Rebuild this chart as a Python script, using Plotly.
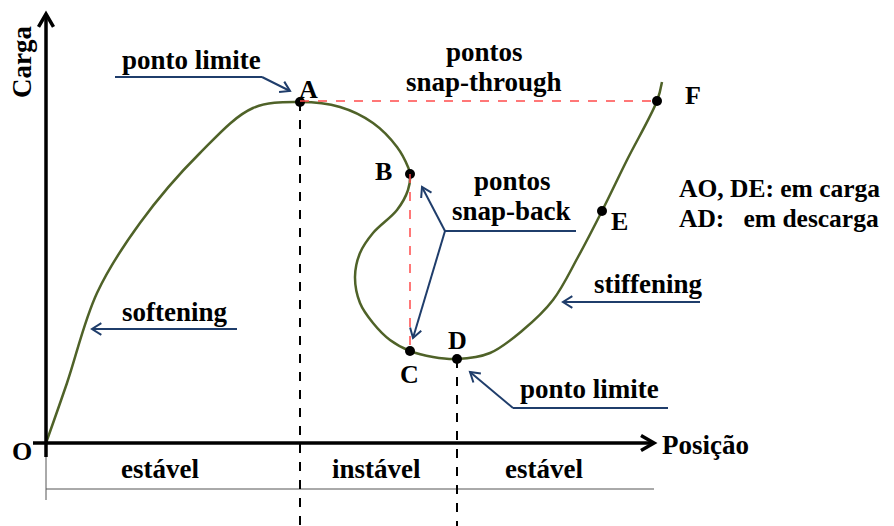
import math
import plotly.graph_objects as go

# ---- data: load-position equilibrium path (position, load) ----
curve_pos = [0, 21, 51, 94, 154, 207, 254,
             294, 327, 351, 362, 364,
             362, 351, 327, 314, 309, 314, 327, 344, 364,
             387, 411, 444, 477, 507, 532, 556, 581, 611, 616]
curve_load = [0, 60, 150, 220, 290, 335, 341,
              336, 320, 296, 276, 269,
              253, 233, 210, 190, 166, 140, 120, 103, 92,
              86, 84, 90, 113, 143, 186, 232, 283, 342, 361]
point_names = ["A", "B", "C", "D", "E", "F"]
point_pos = [254, 364, 364, 411, 556, 611]
point_load = [341, 269, 92, 84, 232, 342]
region_labels = ["estável", "instável", "estável"]

# ---- helpers (pixel -> data) ----
OX, OY = 46, 443
def X(px): return px - OX
def Y(py): return OY - py

PAD = 8  # default page body margin
FONT = "Liberation Serif"
GREEN = "#4f6228"
BLUE = "#1f3d6b"
RED = "#ff4b4b"

fig = go.Figure()
fig.add_trace(go.Scatter(x=curve_pos, y=curve_load, mode="lines",
                         line=dict(color=GREEN, width=2.5, shape="spline", smoothing=1.0),
                         hoverinfo="skip", showlegend=False))
fig.add_trace(go.Scatter(x=point_pos, y=point_load, mode="markers",
                         marker=dict(color="black", size=10),
                         text=point_names, hoverinfo="text", showlegend=False))

shapes = []
def line(p1, p2, color="black", width=2, dash="solid"):
    shapes.append(dict(type="line", xref="x", yref="y",
                       x0=X(p1[0]), y0=Y(p1[1]), x1=X(p2[0]), y1=Y(p2[1]),
                       line=dict(color=color, width=width, dash=dash)))

def chevron(tip, tail, color, width=2, L=11, ang=32):
    vx, vy = tail[0] - tip[0], tail[1] - tip[1]
    n = math.hypot(vx, vy)
    vx, vy = vx / n, vy / n
    pts = []
    for s in (1, -1):
        a = math.radians(ang * s)
        rx = vx * math.cos(a) - vy * math.sin(a)
        ry = vx * math.sin(a) + vy * math.cos(a)
        pts.append((tip[0] + L * rx, tip[1] + L * ry))
    path = "M {} {} L {} {} L {} {}".format(X(pts[0][0]), Y(pts[0][1]), X(tip[0]), Y(tip[1]),
                                             X(pts[1][0]), Y(pts[1][1]))
    shapes.append(dict(type="path", xref="x", yref="y", path=path,
                       line=dict(color=color, width=width)))

def arrow(points, color=BLUE, width=2):
    for a, b in zip(points[:-1], points[1:]):
        line(a, b, color, width)
    chevron(points[-1], points[-2], color, width)

# axes
line((46, 457), (46, 15), width=3.5)
chevron((46, 14), (46, 40), "black", width=3.5, L=15, ang=30)
line((33, 443), (652, 443), width=3.5)
chevron((654, 443), (620, 443), "black", width=3.5, L=15, ang=30)
line((46, 457), (46, 500), color="#555555", width=1)
line((46, 489), (654, 489), color="#555555", width=1)

# dashed guides
line((300, 102), (300, 526), width=2, dash="dash")
line((457, 359), (457, 526), width=2, dash="dash")
line((300, 101), (657, 101), color=RED, width=1.5, dash="dash")
line((410, 174), (410, 351), color=RED, width=1.5, dash="dash")

# blue pointer arrows
arrow([(115, 77), (262, 77), (290, 91)])
arrow([(237, 329), (92, 329)])
arrow([(576, 231), (445, 231), (422, 187)])
arrow([(445, 231), (413, 338)])
arrow([(700, 302), (563, 302)])
arrow([(668, 408), (513, 408), (470, 372)])

annots = []
def T(text, px, py, size=27, xanchor="center", angle=0):
    annots.append(dict(text="<b>" + text + "</b>", x=X(px), y=Y(py), xref="x", yref="y",
                       showarrow=False, xanchor=xanchor, yanchor="middle", textangle=angle,
                       font=dict(family=FONT, size=size, color="black")))

T("Carga", 22, 62, size=27, angle=-90)
T("ponto limite", 191, 60)
T("pontos", 484, 52)
T("snap-through", 484, 82)
T("pontos", 512, 181)
T("snap-back", 511, 211)
T("AO, DE: em carga", 677, 188, size=25.5, xanchor="left")
T("AD:   em descarga", 677, 218, size=25.5, xanchor="left")
T("softening", 175, 312)
T("stiffening", 648, 284)
T("ponto limite", 589, 389)
T("Posição", 705, 445)
T("O", 22, 451, size=26)
# point letters
letter_px = [(308, 89), (383, 171), (409, 374), (457, 340), (619, 221), (693, 95)]
for name, (px, py) in zip(point_names, letter_px):
    T(name, px, py, size=26)
for lab, cx in zip(region_labels, [160, 376, 544]):
    T(lab, cx, 469)

fig.update_layout(width=894 - PAD, height=526 - PAD, margin=dict(l=0, r=0, t=0, b=0),
                  paper_bgcolor="white", plot_bgcolor="white",
                  xaxis=dict(range=[X(PAD), X(894)], visible=False, fixedrange=True),
                  yaxis=dict(range=[Y(526), Y(PAD)], visible=False, fixedrange=True),
                  shapes=shapes, annotations=annots, showlegend=False)
fig.write_html("out.html")
